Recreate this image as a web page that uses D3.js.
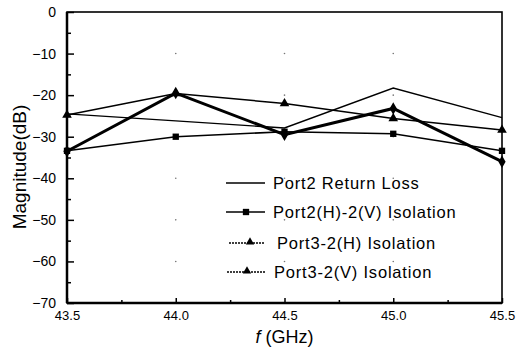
<!DOCTYPE html>
<html>
<head>
<meta charset="utf-8">
<script src="https://cdn.jsdelivr.net/npm/d3@7"></script>
<style>
  body { margin: 0; background: #fff; }
  svg text { font-family: "Liberation Sans", Arial, sans-serif; fill: #000; }
</style>
</head>
<body>
<svg id="chart" width="519" height="347"></svg>
<script>
// ===========================//
// DATA
// ===========================//

var freq = [43.5, 44.0, 44.5, 45.0, 45.5]

var returnLoss  = [-24.5, -26.2, -27.9, -18.3, -25.4]
var iso22       = [-33.4, -30.0, -28.8, -29.3, -33.4]
var iso32H      = [-24.8, -19.6, -22.0, -25.6, -28.4]
var iso32V      = [-33.5, -19.5, -29.5, -23.2, -36.0]

var xTicks = [43.5, 44.0, 44.5, 45.0, 45.5]
var yTicks = [0, -10, -20, -30, -40, -50, -60, -70]

var legendNames = ["Port2 Return Loss", "Port2(H)-2(V) Isolation", "Port3-2(H) Isolation", "Port3-2(V) Isolation"]

// ===========================//
// SCALES
// ===========================//

var svg = d3.select("#chart")
var margin = {left: 67, right: 17, top: 12, bottom: 44}
var W = 519, H = 347

var x = d3.scaleLinear().domain([43.5, 45.5]).range([margin.left, W - margin.right])
var y = d3.scaleLinear().domain([-70, 0]).range([H - margin.bottom, margin.top])

// faint grid dots at major tick crossings
xTicks.slice(1, -1).forEach(function(xv){
  yTicks.slice(1, -1).forEach(function(yv){
    svg.append("circle").attr("cx", x(xv)).attr("cy", y(yv)).attr("r", 0.8).attr("fill", "#777")
  })
})

// ===========================//
// AXES
// ===========================//

var xAxis = d3.axisBottom(x).tickValues(xTicks).tickFormat(d3.format(".1f")).tickSize(-5).tickPadding(8)
var gx = svg.append("g").attr("transform", "translate(0," + y(-70) + ")").call(xAxis)
var xMinor = d3.axisBottom(x).tickValues(d3.range(43.75, 45.5, 0.5)).tickSize(-3).tickFormat("")
svg.append("g").attr("transform", "translate(0," + y(-70) + ")").call(xMinor)

var yAxis = d3.axisLeft(y).tickValues(yTicks).tickFormat(function(d){ return d == 0 ? "0" : "\u2212" + Math.abs(d) }).tickSize(-7).tickPadding(11)
var gy = svg.append("g").attr("transform", "translate(" + x(43.5) + ",0)").call(yAxis)
var yMinor = d3.axisLeft(y).tickValues(d3.range(-65, 0, 10)).tickSize(-4).tickFormat("")
svg.append("g").attr("transform", "translate(" + x(43.5) + ",0)").call(yMinor)

svg.selectAll(".domain").remove()
svg.selectAll(".tick line").attr("stroke", "#000").attr("stroke-width", 1.5)
gx.selectAll("text").style("font-size", "13px")
gy.selectAll("text").style("font-size", "14px")

// frame
svg.append("rect")
  .attr("x", x(43.5)).attr("y", y(0))
  .attr("width", x(45.5) - x(43.5)).attr("height", y(-70) - y(0))
  .attr("fill", "none").attr("stroke", "#000").attr("stroke-width", 1.6)
svg.append("line").attr("x1", x(43.5)).attr("x2", x(43.5)).attr("y1", y(0)).attr("y2", y(-70))
  .attr("stroke", "#000").attr("stroke-width", 2.5)
svg.append("line").attr("x1", x(43.5)).attr("x2", x(45.5)).attr("y1", y(-70)).attr("y2", y(-70))
  .attr("stroke", "#000").attr("stroke-width", 2.5)

// labels
svg.append("text")
  .attr("transform", "translate(26,167) rotate(-90)")
  .attr("text-anchor", "middle")
  .style("font-size", "19px")
  .text("Magnitude(dB)")

var xl = svg.append("text")
  .attr("x", (x(43.5) + x(45.5)) / 2).attr("y", 343)
  .attr("text-anchor", "middle")
  .style("font-size", "18px")
xl.append("tspan").style("font-style", "italic").text("f")
xl.append("tspan").text(" (GHz)")

// ===========================//
// LINES
// ===========================//

var line = d3.line().x(function(d){ return x(d[0]) }).y(function(d){ return y(d[1]) })
function pts(vals){ return freq.map(function(f, i){ return [f, vals[i]] }) }

var sqr = d3.symbol().type(d3.symbolSquare).size(40)
var tri = d3.symbol().type(d3.symbolTriangle).size(40)

// return loss - plain
svg.append("path").attr("d", line(pts(returnLoss))).attr("fill", "none").attr("stroke", "#000").attr("stroke-width", 1.4)

// port2 iso - squares
svg.append("path").attr("d", line(pts(iso22))).attr("fill", "none").attr("stroke", "#000").attr("stroke-width", 1.5)
svg.selectAll(".sq").data(pts(iso22)).enter().append("path")
  .attr("d", sqr).attr("transform", function(d){ return "translate(" + x(d[0]) + "," + y(d[1]) + ")" })

// port3-2(H) - triangles
svg.append("path").attr("d", line(pts(iso32H))).attr("fill", "none").attr("stroke", "#000").attr("stroke-width", 1.5)
svg.selectAll(".tr").data(pts(iso32H)).enter().append("path")
  .attr("d", tri).attr("transform", function(d){ return "translate(" + x(d[0]) + "," + y(d[1]) + ")" })

// port3-2(V) - thick, diamonds
svg.append("path").attr("d", line(pts(iso32V))).attr("fill", "none").attr("stroke", "#000").attr("stroke-width", 3)
svg.selectAll(".tv").data(pts(iso32V)).enter().append("path")
  .attr("d", d3.symbol().type(d3.symbolDiamond).size(45))
  .attr("transform", function(d){ return "translate(" + x(d[0]) + "," + y(d[1]) + ")" })

// ===========================//
// LEGEND
// ===========================//

var legY = [183, 212, 243, 272]
var legX0 = [226, 226, 229, 227]
var legTextX = [273, 273, 277, 274]
legendNames.forEach(function(name, i){
  var dash = i >= 2 ? "2,1" : null
  svg.append("line").attr("x1", legX0[i]).attr("x2", 265).attr("y1", legY[i]).attr("y2", legY[i])
    .attr("stroke", "#000").attr("stroke-width", i >= 2 ? 1.6 : 1.4).attr("stroke-dasharray", dash)
  if (i == 1) {
    svg.append("path").attr("d", sqr).attr("transform", "translate(246," + legY[i] + ")")
  }
  if (i >= 2) {
    svg.append("path").attr("d", d3.symbol().type(d3.symbolTriangle).size(30)).attr("transform", "translate(" + (i == 2 ? 250 : 247) + "," + (legY[i] - 1) + ")")
  }
  svg.append("text").attr("x", legTextX[i]).attr("y", legY[i]).attr("dy", "0.35em")
    .style("font-size", "16.5px").style("letter-spacing", "0.8px").text(name)
})
</script>
</body>
</html>
